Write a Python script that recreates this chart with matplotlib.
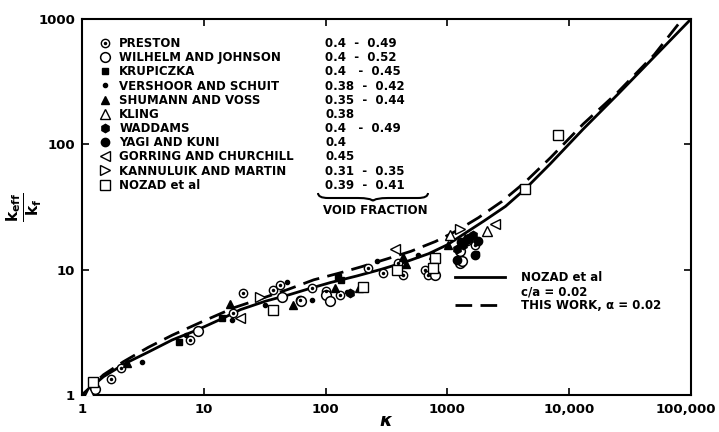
import matplotlib
matplotlib.use("Agg")
import matplotlib.pyplot as plt
import matplotlib.transforms as mtransforms
from matplotlib.lines import Line2D
from matplotlib.path import Path
from matplotlib.patches import PathPatch

plt.rcParams['font.family'] = ['DejaVu Sans']
plt.rcParams['font.weight'] = 'bold'
plt.rcParams['mathtext.fontset'] = 'dejavusans'

# ---- curves ----
nozad_kappa = [1, 1.5, 2.3, 3.5, 5.5, 8.8, 14, 20, 32, 50, 75, 110, 180, 280, 450, 700, 1000,
               1450, 2000, 3000, 4350, 7000, 13000, 25000, 50000, 100000]
nozad_keff = [1, 1.4, 1.8, 2.2, 2.75, 3.3, 4.05, 4.8, 5.6, 6.3, 7.1, 7.9, 8.9, 10.0, 11.5, 13.4, 15.8,
              20.0, 24.5, 32, 44, 70, 132, 250, 500, 1000]
thiswork_kappa = [1, 1.5, 2.2, 3.5, 5.5, 10, 18, 30, 50, 80, 130, 200, 320, 500, 800, 1200,
                  1800, 2800, 4350, 7000, 13000, 25000, 50000, 85000]
thiswork_keff = [1, 1.45, 1.85, 2.4, 3.0, 3.9, 5.0, 5.9, 7.0, 8.3, 9.4, 10.6, 12.2, 14.0, 16.8, 20.5,
                 26, 35, 50, 78, 145, 260, 520, 1000]

# ---- data series ----
series_names = ["PRESTON", "WILHELM AND JOHNSON", "KRUPICZKA", "VERSHOOR AND SCHUIT",
                "SHUMANN AND VOSS", "KLING", "WADDAMS", "YAGI AND KUNI",
                "GORRING AND CHURCHILL", "KANNULUIK AND MARTIN", "NOZAD et al"]
void_fractions = ["0.4  -  0.49", "0.4  -  0.52", "0.4   -  0.45", "0.38  -  0.42", "0.35  -  0.44",
                  "0.38", "0.4   -  0.49", "0.4", "0.45", "0.31  -  0.35", "0.39  -  0.41"]

preston_k = [1.73, 2.08, 7.7, 17.4, 21, 37, 42, 62, 77, 100, 132, 224, 297, 395, 433, 655, 690, 1690, 1450]
preston_y = [1.34, 1.65, 2.76, 4.5, 6.5, 6.9, 7.6, 5.75, 7.1, 6.7, 6.3, 10.3, 9.4, 11.3, 9.1, 10.0, 9.1, 15.8, 17.0]
wilhelm_k = [1.28, 8.95, 44, 63, 100, 109, 790, 1260, 1310, 1260]
wilhelm_y = [1.12, 3.25, 6.0, 5.6, 6.3, 5.6, 9.1, 11.3, 11.7, 14.0]
krup_k = [6.3, 14, 126, 135]
krup_y = [2.65, 4.1, 8.8, 8.3]
vers_k = [3.1, 7.2, 17, 32, 77, 48, 263, 575, 1740, 150]
vers_y = [1.84, 3.0, 4.0, 5.2, 5.7, 7.9, 11.7, 13.2, 13.6, 6.6]
shum_k = [2.34, 16.4, 54, 120, 187, 433, 457, 760, 1010, 1400]
shum_y = [1.8, 5.35, 5.25, 7.1, 7.1, 12.7, 11.0, 13.2, 15.8, 18.0]
kling_k = [1.15, 1050, 2100]
kling_y = [1.05, 19.0, 20.5]
wadd_k = [1440, 1620, 1350, 1200, 160]
wadd_y = [17.4, 19.0, 15.8, 14.5, 6.5]
yagi_k = [1200, 1690, 1500, 1300, 1800]
yagi_y = [12.0, 13.2, 18.0, 16.5, 17.0]
gorr_k = [20, 371, 2460]
gorr_y = [4.1, 14.7, 23.3]
kann_k = [29, 1260]
kann_y = [6.0, 21.0]
nozad_k = [1.24, 36.8, 204, 383, 790, 760, 4350, 8100]
nozad_y = [1.28, 4.8, 7.3, 10.0, 12.4, 10.4, 44, 118]

xticks = [1, 10, 100, 1000, 10000, 100000]
xticklabels = ["1", "10", "100", "1000", "10,000", "100,000"]
yticks = [1, 10, 100, 1000]
yticklabels = ["1", "10", "100", "1000"]

W, H = 719, 432
fig = plt.figure(figsize=(W / 100, H / 100), dpi=100)
L, R, T, B = 82, 691, 19, 395
ax = fig.add_axes([L / W, 1 - B / H, (R - L) / W, (B - T) / H])
ax.set_xscale('log')
ax.set_yscale('log')
ax.set_xlim(1, 100000)
ax.set_ylim(1, 1000)

ax.plot(nozad_kappa, nozad_keff, color='black', lw=2.0, zorder=3)
ax.plot(thiswork_kappa, thiswork_keff, color='black', lw=2.0, dashes=(6, 3), zorder=3)

ms = dict(color='black', linestyle='none', zorder=4)
h_pre, = ax.plot(preston_k, preston_y, marker='o', ms=6, mfc='white', mec='black', mew=1.0, **ms)
ax.plot(preston_k, preston_y, marker='o', ms=2.5, mfc='black', mec='black', mew=0, color='black', linestyle='none', zorder=5)
h_wil, = ax.plot(wilhelm_k, wilhelm_y, marker='o', ms=7, mfc='white', mec='black', mew=1.1, **ms)
h_kru, = ax.plot(krup_k, krup_y, marker='s', ms=4.5, mfc='black', mec='black', **ms)
h_ver, = ax.plot(vers_k, vers_y, marker='o', ms=3, mfc='black', mec='black', **ms)
h_shu, = ax.plot(shum_k, shum_y, marker='^', ms=6, mfc='black', mec='black', **ms)
h_kli, = ax.plot(kling_k, kling_y, marker='^', ms=7, mfc='white', mec='black', mew=1.0, **ms)
h_wad, = ax.plot(wadd_k, wadd_y, marker='h', ms=6, mfc='black', mec='black', **ms)
h_yag, = ax.plot(yagi_k, yagi_y, marker='o', ms=6, mfc='black', mec='black', **ms)
h_gor, = ax.plot(gorr_k, gorr_y, marker='<', ms=7, mfc='white', mec='black', mew=1.0, **ms)
h_kan, = ax.plot(kann_k, kann_y, marker='>', ms=7, mfc='white', mec='black', mew=1.0, **ms)
h_noz, = ax.plot(nozad_k, nozad_y, marker='s', ms=6.5, mfc='white', mec='black', mew=1.0, **ms)

# legend proxies (with combined marker for PRESTON)
pre_outer = Line2D([], [], marker='o', ms=6, mfc='white', mec='black', mew=1.0, linestyle='none')
pre_inner = Line2D([], [], marker='o', ms=2.5, mfc='black', mec='black', mew=0, linestyle='none')
handles = [(pre_outer, pre_inner), h_wil, h_kru, h_ver, h_shu, h_kli, h_wad, h_yag, h_gor, h_kan, h_noz]


def px2ax(x, y):
    return ((x - L) / (R - L), (B - y) / (B - T))


lsp = 0.10
fs = 8.5
leg1 = ax.legend(handles, series_names, loc='upper left', bbox_to_anchor=px2ax(98, 37),
                 frameon=False, borderpad=0, borderaxespad=0, handlelength=1.2,
                 handletextpad=0.6, labelspacing=lsp, prop=dict(size=fs, weight='bold'))
ax.add_artist(leg1)

blank = [Line2D([], [], linestyle='none') for _ in void_fractions]
leg2 = ax.legend(blank, void_fractions, loc='upper left', bbox_to_anchor=px2ax(325, 37),
                 frameon=False, borderpad=0, borderaxespad=0, handlelength=0,
                 handletextpad=0, labelspacing=lsp, prop=dict(size=fs, weight='bold'))
ax.add_artist(leg2)

# brace under void fraction column
x0, x1, xm = 318, 428, 373
yt, yb = 193, 200
pts = [px2ax(x0, yt), px2ax(x0, yb - 2), px2ax(x0 + 10, yb - 2), px2ax(xm - 15, yb - 2),
       px2ax(xm - 2, yb - 2), px2ax(xm, yb + 1), px2ax(xm, yb + 1),
       px2ax(xm + 2, yb - 2), px2ax(xm + 15, yb - 2), px2ax(x1 - 10, yb - 2),
       px2ax(x1, yb - 2), px2ax(x1, yt)]
codes = [Path.MOVETO, Path.CURVE3, Path.CURVE3, Path.LINETO, Path.CURVE3, Path.CURVE3,
         Path.MOVETO, Path.CURVE3, Path.CURVE3, Path.LINETO, Path.CURVE3, Path.CURVE3]
brace = PathPatch(Path(pts, codes), transform=ax.transAxes, fill=False, lw=1.5, color='black')
ax.add_patch(brace)
ax.text(*px2ax(375, 211), "VOID FRACTION", transform=ax.transAxes, ha='center', va='center',
        fontsize=fs, fontweight='bold')

# curve legend
c1 = Line2D([], [], color='black', lw=2.0)
c2 = Line2D([], [], linestyle='none')
c3 = Line2D([], [], color='black', lw=2.0, dashes=(6, 3))
leg3 = ax.legend([c1, c2, c3], ["NOZAD et al", "c/a = 0.02", "THIS WORK, α = 0.02"],
                 loc='upper left', bbox_to_anchor=px2ax(455, 271), frameon=False,
                 borderpad=0, borderaxespad=0, handlelength=4.2, handletextpad=1.4,
                 labelspacing=lsp, prop=dict(size=fs, weight='bold'))

ax.set_xticks(xticks)
ax.set_xticklabels(xticklabels)
ax.set_yticks(yticks)
ax.set_yticklabels(yticklabels)
ax.minorticks_off()
ax.tick_params(direction='in', top=True, right=True, length=5, width=1.2, labelsize=9.5)
ax.tick_params(axis='x', pad=6)
ax.tick_params(axis='y', pad=5)
for lab in ax.get_xticklabels() + ax.get_yticklabels():
    lab.set_fontweight('bold')
for s in ax.spines.values():
    s.set_linewidth(1.5)

# shift the last x tick label slightly left so it stays inside the figure
last = ax.get_xticklabels()[-1]
last.set_transform(last.get_transform() + mtransforms.ScaledTranslation(-5 / 100, 0, fig.dpi_scale_trans))

fig.text(386 / W, 1 - 421 / H, r"$\kappa$", fontsize=13, ha='center', va='center')
fig.text(24 / W, 1 - 207 / H, r"$\frac{\mathbf{k}_{\mathbf{eff}}}{\mathbf{k}_{\mathbf{f}}}$",
         fontsize=16, rotation=90, ha='center', va='center')

fig.savefig("out.png", dpi=100)
